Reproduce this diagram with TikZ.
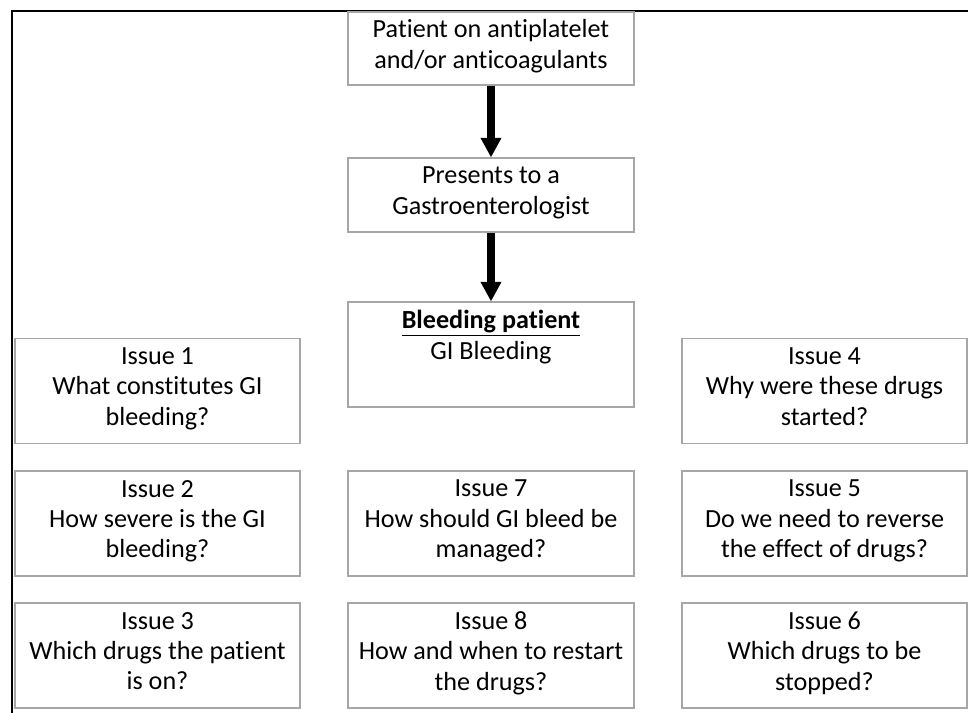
\documentclass[tikz,border=0pt]{standalone}
\usepackage{fontspec}
\setmainfont[Ligatures=NoCommon]{Carlito}
\usepackage{xcolor}
\usetikzlibrary{arrows.meta}
\definecolor{boxgray}{HTML}{A6A6A6}

\begin{document}
\begin{tikzpicture}[
  flowbox/.style={draw=boxgray,line width=0.8pt,align=center,inner sep=0pt,
    minimum width=7.15cm,font=\fontsize{18.6pt}{21.6pt}\selectfont,
    execute at begin node=\strut,execute at end node=\strut},
  issuebox/.style={flowbox,minimum width=7.125cm,minimum height=2.625cm},
  bigarrow/.style={-{Triangle[length=14pt,width=14pt]},line width=5pt}]
\useasboundingbox (0,0) rectangle (24.2,-17.8);
\draw[line width=2pt] (24.3,-0.275)--(0.3,-0.275)--(0.3,-17.9);

%main path
\node[flowbox,minimum height=1.825cm] (patient) at (12.275,-1.2125) {Patient on antiplatelet\\and/or anticoagulants};
\node[flowbox,minimum height=1.85cm] (presents) at (12.275,-4.875) {Presents to a\\Gastroenterologist};
\node[flowbox,minimum height=2.625cm] (bleeding) at (12.275,-8.8625) {\underline{\textbf{Bleeding patient}}\\GI Bleeding\\};
\draw[bigarrow] (patient.south)--(presents.north);
\draw[bigarrow] (presents.south)--(bleeding.north);

%left column
\node[issuebox] (issue1) at (3.9375,-9.775) {Issue 1\\What constitutes GI\\bleeding?};
\node[issuebox] (issue2) at (3.9375,-13.0875) {Issue 2\\How severe is the GI\\bleeding?};
\node[issuebox] (issue3) at (3.9375,-16.3875) {Issue 3\\Which drugs the patient\\is on?};

%right column
\node[issuebox] (issue4) at (20.6125,-9.775) {Issue 4\\Why were these drugs\\started?};
\node[issuebox] (issue5) at (20.6125,-13.0875) {Issue 5\\Do we need to reverse\\the effect of drugs?};
\node[issuebox] (issue6) at (20.6125,-16.3875) {Issue 6\\Which drugs to be\\stopped?};

%middle column
\node[issuebox,minimum width=7.15cm] (issue7) at (12.275,-13.0875) {Issue 7\\How should GI bleed be\\managed?};
\node[issuebox,minimum width=7.15cm] (issue8) at (12.275,-16.3875) {Issue 8\\How and when to restart\\the drugs?};
\end{tikzpicture}
\end{document}
